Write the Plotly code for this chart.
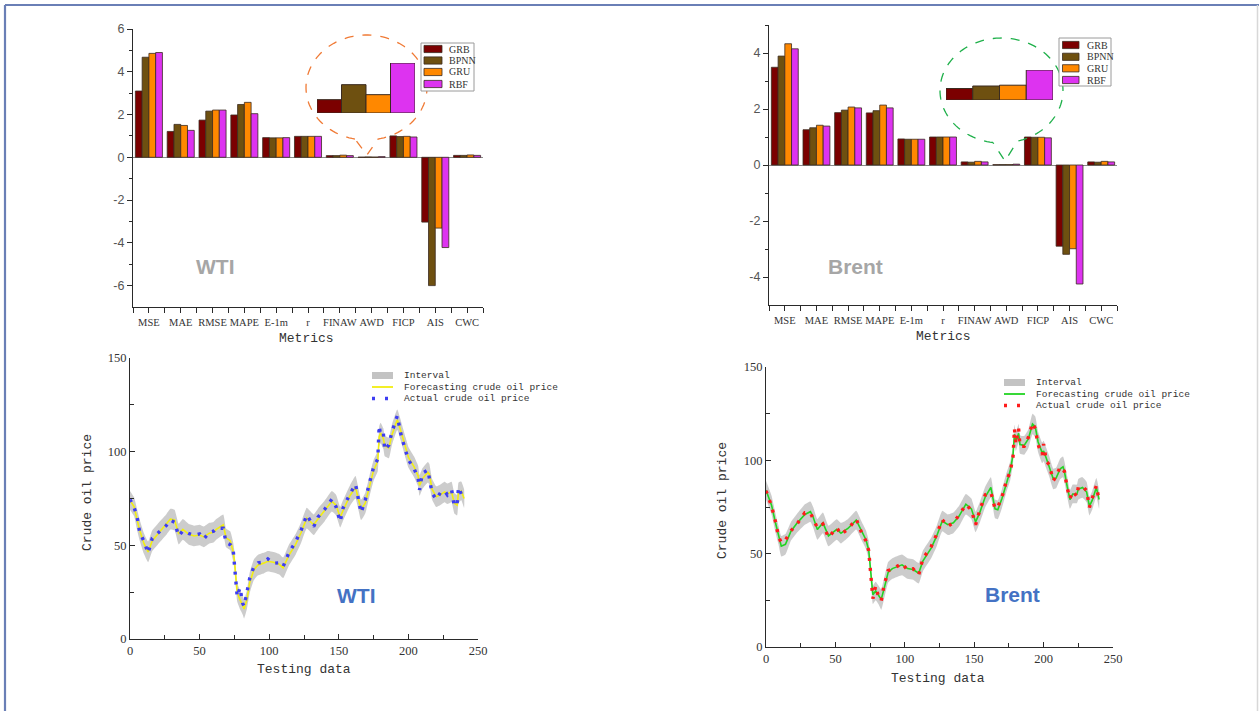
import numpy as np
import plotly.graph_objects as go

W, H = 1259, 711

# ---------------- evaluation metrics (bar charts) ----------------
metrics = ["MSE", "MAE", "RMSE", "MAPE", "E-1m", "r", "FINAW", "AWD", "FICP", "AIS", "CWC"]
models = ["GRB", "BPNN", "GRU", "RBF"]
model_colors = ["#7b0000", "#6e5010", "#ff8800", "#dd33f0"]

wti_grb = [3.10, 1.21, 1.74, 1.98, 0.92, 0.98, 0.08, 0.008, 1.00, -3.03, 0.09]
wti_bpnn = [4.68, 1.54, 2.16, 2.47, 0.91, 0.98, 0.08, 0.017, 0.97, -6.00, 0.09]
wti_gru = [4.86, 1.49, 2.21, 2.57, 0.91, 0.98, 0.10, 0.011, 0.98, -3.31, 0.11]
wti_rbf = [4.90, 1.26, 2.21, 2.04, 0.92, 0.98, 0.08, 0.030, 0.95, -4.22, 0.09]

brent_grb = [3.49, 1.26, 1.87, 1.86, 0.93, 1.00, 0.11, 0.0115, 1.00, -2.90, 0.11]
brent_bpnn = [3.89, 1.33, 1.96, 1.94, 0.92, 1.00, 0.10, 0.0140, 0.99, -3.19, 0.10]
brent_gru = [4.33, 1.42, 2.07, 2.14, 0.92, 1.00, 0.13, 0.0148, 0.99, -2.99, 0.13]
brent_rbf = [4.15, 1.39, 2.04, 2.04, 0.92, 1.00, 0.11, 0.0300, 0.97, -4.25, 0.11]

# ---------------- interval forecasts (line charts) ----------------
wti_x = [0, 3, 5, 7, 10, 13, 16, 20, 23, 26, 29, 32, 35, 38, 42, 46, 50, 53, 57, 60,
         62, 67, 69, 72, 74, 75, 76, 77, 79, 81, 82, 84, 86, 89, 92, 96, 99, 103, 107, 110,
         114, 119, 123, 127, 132, 135, 140, 145, 148, 151, 153, 158, 162, 166, 169, 172, 175, 178, 179, 180,
         182, 183, 186, 188, 192, 195, 198, 200, 204, 207, 208, 210, 214, 215, 217, 220, 223, 226, 228, 231,
         233, 235, 236, 238, 240]
wti_actual = [74.5, 70.0, 65.7, 56.8, 52.3, 45.8, 53.8, 56.4, 58.0, 60.5, 63.5, 62.3, 55.0, 57.8, 56.4, 55.3, 56.1, 53.4, 57.0, 57.5,
              59.1, 59.1, 51.4, 50.4, 48.7, 40.0, 31.5, 22.6, 27.4, 19.0, 17.5, 24.4, 32.4, 38.6, 40.7, 41.0, 42.7, 40.4, 40.7, 38.6,
              45.8, 52.0, 58.2, 66.2, 60.0, 65.0, 69.4, 74.6, 70.6, 62.6, 69.8, 77.4, 82.6, 67.4, 74.2, 83.1, 91.7, 96.1, 113.9, 108.9,
              109.8, 100.9, 103.6, 110.1, 119.1, 108.0, 100.5, 95.6, 91.1, 85.8, 79.6, 88.5, 90.2, 86.3, 77.8, 74.6, 78.1, 79.2, 76.9, 79.6,
              71.0, 72.4, 81.0, 77.4, 75.1]
wti_forecast = [74.0, 70.5, 64.0, 58.0, 51.0, 46.5, 52.5, 56.0, 58.5, 61.0, 64.0, 63.5, 56.0, 58.5, 56.0, 55.0, 55.5, 54.5, 56.5, 57.0,
                58.5, 61.0, 54.0, 52.5, 47.0, 42.0, 33.0, 25.0, 21.0, 18.0, 16.0, 21.0, 30.0, 37.0, 39.5, 40.5, 41.5, 41.0, 40.0, 38.0,
                44.5, 50.5, 57.0, 64.5, 61.0, 64.0, 68.5, 73.5, 71.5, 65.0, 68.5, 76.5, 81.0, 69.0, 72.5, 81.5, 90.0, 95.0, 108.0, 110.0,
                107.0, 103.0, 102.0, 108.5, 117.0, 110.0, 102.0, 97.0, 92.0, 87.0, 82.0, 85.5, 89.0, 88.0, 80.0, 76.0, 77.0, 78.5, 77.5, 78.5,
                72.5, 71.5, 78.0, 79.0, 75.0]
wti_halfwidth = [5.0, 5.0, 5.5, 5.5, 5.5, 5.5, 5.5, 5.5, 5.5, 5.5, 5.5, 5.5, 5.5, 5.5, 5.5, 5.5, 5.5, 5.5, 5.5, 5.5,
                 5.5, 5.5, 5.0, 5.0, 5.0, 5.0, 5.0, 5.0, 5.0, 5.0, 5.0, 5.0, 5.5, 5.5, 5.5, 5.5, 5.5, 5.5, 5.5, 5.5,
                 5.5, 5.5, 5.5, 5.5, 5.5, 5.5, 5.5, 5.5, 5.5, 5.5, 5.5, 5.5, 6.0, 5.5, 5.5, 5.5, 5.5, 5.5, 5.5, 5.5,
                 5.5, 5.5, 5.5, 5.5, 5.5, 5.5, 5.5, 5.5, 5.5, 5.5, 5.5, 5.5, 5.5, 5.5, 5.5, 5.5, 5.5, 5.5, 5.5, 5.5,
                 5.5, 5.5, 5.5, 5.0, 5.0]

brent_x = [0, 4, 7, 9, 11, 14, 18, 22, 28, 32, 34, 37, 41, 45, 51, 54, 59, 65, 69, 72,
           74, 75, 76, 77, 79, 81, 83, 85, 88, 91, 98, 102, 106, 110, 113, 119, 123, 127, 131, 135,
           139, 144, 148, 151, 154, 158, 162, 165, 167, 170, 173, 176, 178, 179, 180, 182, 183, 186, 189, 192,
           194, 196, 199, 200, 202, 204, 207, 209, 212, 214, 215, 217, 219, 221, 224, 225, 228, 231, 233, 235,
           238, 240]
brent_actual = [83.7, 75.5, 66.6, 59.1, 55.9, 57.3, 62.3, 65.5, 71.9, 71.9, 68.6, 63.9, 65.9, 58.7, 63.9, 60.3, 63.2, 68.6, 60.9, 56.8,
                51.6, 43.0, 34.1, 25.9, 32.7, 26.9, 24.8, 32.7, 40.9, 41.6, 44.8, 41.2, 41.9, 38.6, 47.3, 53.8, 60.4, 68.2, 64.6, 66.8,
                70.5, 76.3, 73.4, 65.5, 73.2, 81.6, 83.0, 74.1, 75.2, 80.2, 88.4, 94.1, 102.1, 117.0, 108.8, 117.0, 107.5, 107.5, 112.3, 120.0,
                117.0, 108.4, 103.0, 108.8, 99.5, 97.7, 89.1, 91.4, 96.6, 95.0, 94.1, 85.2, 79.5, 83.4, 80.7, 85.7, 86.1, 83.8, 74.8, 79.5,
                86.4, 78.4]
brent_forecast = [84.0, 76.0, 66.0, 60.0, 54.0, 55.0, 62.0, 66.0, 71.0, 72.5, 69.5, 63.0, 66.5, 59.5, 63.0, 61.0, 63.5, 68.0, 62.0, 57.5,
                  52.0, 44.0, 35.0, 28.0, 30.0, 28.0, 25.5, 31.0, 40.0, 42.0, 44.0, 42.0, 41.5, 39.5, 46.0, 53.0, 59.5, 67.5, 65.5, 66.5,
                  70.0, 76.5, 74.0, 67.0, 72.0, 80.5, 85.5, 74.0, 73.5, 79.5, 87.5, 94.5, 103.0, 114.0, 110.0, 114.5, 108.5, 108.0, 111.5, 119.5,
                  118.0, 110.0, 104.0, 105.0, 101.0, 97.0, 90.0, 90.5, 95.5, 96.5, 94.0, 86.0, 79.0, 82.0, 82.0, 84.5, 85.5, 83.0, 75.5, 78.5,
                  85.5, 79.0]
brent_halfwidth = [5.0, 5.0, 5.0, 5.0, 5.5, 5.5, 5.0, 5.0, 5.5, 5.5, 5.5, 5.5, 5.5, 5.5, 5.5, 5.5, 5.0, 5.0, 5.0, 5.0,
                   5.0, 5.0, 5.0, 5.0, 5.0, 5.0, 5.5, 5.5, 5.5, 5.5, 5.5, 5.5, 5.5, 5.5, 5.5, 5.5, 5.5, 5.5, 5.5, 5.5,
                   5.5, 5.5, 5.5, 5.5, 5.5, 5.5, 5.5, 5.0, 5.0, 5.0, 5.0, 5.0, 5.0, 5.0, 5.0, 5.0, 5.0, 5.0, 5.0, 5.5,
                   5.5, 5.5, 5.5, 5.5, 5.5, 5.5, 5.5, 5.5, 5.5, 5.5, 5.5, 5.5, 5.0, 5.0, 5.0, 5.5, 5.5, 5.5, 5.0, 5.0,
                   5.0, 5.0]

price_ticks = [0, 50, 100, 150]
test_ticks = [0, 50, 100, 150, 200, 250]

# ---------------- helpers ----------------
def px(x):
    return x / W


def py(y):
    return 1 - y / H


SERIF = "Liberation Serif, Times New Roman, serif"
MONO = "Liberation Mono, DejaVu Sans Mono, monospace"
SANS = "Liberation Sans, Arial, sans-serif"
AXIS_COLOR = "#2a2a2a"

fig = go.Figure()

# grouped bars for both crude benchmarks
bar_sets = [
    ("x", "y", [wti_grb, wti_bpnn, wti_gru, wti_rbf]),
    ("x2", "y2", [brent_grb, brent_bpnn, brent_gru, brent_rbf]),
]
for xa, ya, series in bar_sets:
    for name, vals, col in zip(models, series, model_colors):
        fig.add_trace(go.Bar(
            x=list(range(len(metrics))), y=vals, name=name,
            marker=dict(color=col, line=dict(color="#3b2b20", width=0.8)),
            xaxis=xa, yaxis=ya, showlegend=False,
        ))

# magnified AWD bars inside the call-out bubbles
awd_idx = metrics.index("AWD")
for xa, ya, series in [("x5", "y5", [wti_grb, wti_bpnn, wti_gru, wti_rbf]),
                       ("x6", "y6", [brent_grb, brent_bpnn, brent_gru, brent_rbf])]:
    fig.add_trace(go.Bar(
        x=list(range(4)), y=[s[awd_idx] for s in series], width=1,
        marker=dict(color=model_colors, line=dict(color="#3b2b20", width=1)),
        xaxis=xa, yaxis=ya, showlegend=False,
    ))

# interval / forecast / actual lines
line_sets = [
    ("x3", "y3", wti_x, wti_actual, wti_forecast, wti_halfwidth, "#f2ee10", "#3d3df2"),
    ("x4", "y4", brent_x, brent_actual, brent_forecast, brent_halfwidth, "#22d422", "#ff1c1c"),
]
for xa, ya, xs, act, fc, hw, fc_col, act_col in line_sets:
    hi = [f + h for f, h in zip(fc, hw)]
    lo = [f - h for f, h in zip(fc, hw)]
    fig.add_trace(go.Scatter(
        x=xs + xs[::-1], y=hi + lo[::-1], fill="toself", mode="lines",
        fillcolor="rgba(185,185,185,0.72)", line=dict(width=0, shape="spline", smoothing=0.4),
        xaxis=xa, yaxis=ya, showlegend=False, hoverinfo="skip", name="Interval",
    ))
    fig.add_trace(go.Scatter(
        x=xs, y=fc, mode="lines", line=dict(color=fc_col, width=1.6),
        xaxis=xa, yaxis=ya, showlegend=False, name="Forecasting crude oil price",
    ))
    fig.add_trace(go.Scatter(
        x=xs, y=act, mode="lines", line=dict(color=act_col, width=3.4, dash="3px,7px"),
        xaxis=xa, yaxis=ya, showlegend=False, name="Actual crude oil price",
    ))

# ---------------- axes ----------------
def bar_xaxis(dom, anchor):
    return dict(
        domain=dom, anchor=anchor, automargin=False,
        range=[-0.5, len(metrics) - 0.5], tickvals=list(range(len(metrics))),
        ticktext=metrics, tickangle=0, ticks="outside", ticklen=5, tickcolor=AXIS_COLOR,
        minor=dict(tickvals=[i + 0.5 for i in range(-1, len(metrics))], ticks="outside",
                   ticklen=5, tickcolor=AXIS_COLOR),
        showline=True, linecolor=AXIS_COLOR, linewidth=1.2, showgrid=False, zeroline=False,
        tickfont=dict(family=SERIF, size=10.5, color="#333"), fixedrange=True,
    )


def bar_yaxis(dom, anchor, rng, tv):
    return dict(
        domain=dom, anchor=anchor, automargin=False,
        range=rng, tickvals=tv, ticktext=[str(v) for v in tv],
        ticks="outside", ticklen=5, tickcolor=AXIS_COLOR,
        minor=dict(tickvals=[v + 1 for v in tv], ticks="outside",
                   ticklen=3, tickcolor=AXIS_COLOR),
        showline=True, linecolor=AXIS_COLOR, linewidth=1.2, showgrid=False,
        zeroline=True, zerolinecolor="#8a8a8a", zerolinewidth=1.2,
        tickfont=dict(family=SANS, size=12.5, color="#555"), fixedrange=True,
    )


def line_xaxis(dom, anchor):
    return dict(
        domain=dom, anchor=anchor, automargin=False,
        range=[0, 250], tickvals=test_ticks, ticks="inside", ticklen=5,
        tickcolor=AXIS_COLOR,
        minor=dict(tickvals=[25, 75, 125, 175, 225], ticks="inside", ticklen=4, tickcolor=AXIS_COLOR),
        showline=True, linecolor=AXIS_COLOR, linewidth=1.2, showgrid=False, zeroline=False,
        tickfont=dict(family=SERIF, size=12.5, color="#333"), fixedrange=True,
    )


def line_yaxis(dom, anchor):
    return dict(
        domain=dom, anchor=anchor, automargin=False,
        range=[0, 150], tickvals=price_ticks, ticks="inside", ticklen=5,
        tickcolor=AXIS_COLOR,
        minor=dict(tickvals=[25, 75, 125], ticks="inside", ticklen=4, tickcolor=AXIS_COLOR),
        showline=True, linecolor=AXIS_COLOR, linewidth=1.2, showgrid=False, zeroline=False,
        tickfont=dict(family=SERIF, size=12.5, color="#333"), fixedrange=True,
    )


hidden = dict(visible=False, showgrid=False, zeroline=False, fixedrange=True, automargin=False)

fig.update_layout(
    width=W, height=H, margin=dict(l=0, r=0, t=0, b=0, autoexpand=False),
    paper_bgcolor="white", plot_bgcolor="rgba(0,0,0,0)",
    barmode="group", bargap=0.15, bargroupgap=0,
    showlegend=False,
    xaxis=bar_xaxis([px(133), px(483)], "y"),
    yaxis=bar_yaxis([py(307), py(29)], "x", [-7, 6], [-6, -4, -2, 0, 2, 4, 6]),
    xaxis2=bar_xaxis([px(769), px(1117)], "y2"),
    yaxis2=bar_yaxis([py(305), py(25)], "x2", [-5, 5], [-4, -2, 0, 2, 4]),
    xaxis3=line_xaxis([px(130), px(478)], "y3"),
    yaxis3=line_yaxis([py(639), py(358)], "x3"),
    xaxis4=line_xaxis([px(766), px(1113)], "y4"),
    yaxis4=line_yaxis([py(647), py(367)], "x4"),
    xaxis5=dict(domain=[px(317), px(415)], range=[-0.5, 3.5], anchor="y5", **hidden),
    yaxis5=dict(domain=[py(113), py(63)], range=[0, max(wti_rbf[awd_idx], wti_bpnn[awd_idx])], anchor="x5", **hidden),
    xaxis6=dict(domain=[px(946), px(1053)], range=[-0.5, 3.5], anchor="y6", **hidden),
    yaxis6=dict(domain=[py(100), py(70)], range=[0, max(brent_rbf[awd_idx], brent_gru[awd_idx])], anchor="x6", **hidden),
)

shapes = []
annotations = []

# outer frame
shapes.append(dict(type="line", xref="paper", yref="paper", x0=px(5), x1=1, y0=py(5), y1=py(5),
                   line=dict(color="#6a7fb6", width=2.2)))
shapes.append(dict(type="line", xref="paper", yref="paper", x0=px(5), x1=px(5), y0=py(5), y1=0,
                   line=dict(color="#6a7fb6", width=2.2)))
shapes.append(dict(type="line", xref="paper", yref="paper", x0=px(1257.5), x1=px(1257.5), y0=py(5), y1=0,
                   line=dict(color="#d8d8d8", width=1.5)))


# call-out bubbles around the magnified AWD bars
def bubble(cx, cy, rx, ry, th0, th1, tip):
    th = np.radians(np.linspace(th0, th1, 120))
    pts = list(zip(cx + rx * np.cos(th), cy + ry * np.sin(th)))
    pts += [tip, pts[0]]
    return "M " + " L ".join(f"{px(a):.5f},{py(b):.5f}" for a, b in pts)


shapes.append(dict(type="path", xref="paper", yref="paper",
                   path=bubble(366.5, 87.5, 60.5, 52.5, 101, 439, (367, 155)),
                   line=dict(color="#f07a35", width=1.3, dash="dash")))
shapes.append(dict(type="path", xref="paper", yref="paper",
                   path=bubble(1001.5, 90.5, 61.5, 52.5, 98, 435, (1005, 161)),
                   line=dict(color="#1fb04a", width=1.3, dash="dash")))


# bar-chart legends
def bar_legend(x0, x1, y0, y1, sw0, sw1, tx, rows):
    shapes.append(dict(type="rect", xref="paper", yref="paper", x0=px(x0), x1=px(x1), y0=py(y1), y1=py(y0),
                       line=dict(color="#9a9a9a", width=1), fillcolor="white"))
    for yc, name, col in zip(rows, models, model_colors):
        shapes.append(dict(type="rect", xref="paper", yref="paper", x0=px(sw0), x1=px(sw1),
                           y0=py(yc + 3.6), y1=py(yc - 3.6), fillcolor=col,
                           line=dict(color="#3b2b20", width=0.8)))
        annotations.append(dict(x=px(tx), y=py(yc), xref="paper", yref="paper", text=name,
                                showarrow=False, xanchor="left", yanchor="middle",
                                font=dict(family=SERIF, size=10, color="#333")))


bar_legend(421, 474, 43, 91, 424, 442, 447, [49, 60.5, 72, 84])
bar_legend(1059, 1111, 38, 86, 1062.5, 1079, 1085, [45, 56.8, 68.3, 80])


# line-chart legends
def line_legend(sx0, sx1, tx, rows, fc_col, act_col):
    labels = ["Interval", "Forecasting crude oil price", "Actual crude oil price"]
    shapes.append(dict(type="rect", xref="paper", yref="paper", x0=px(sx0), x1=px(sx1),
                       y0=py(rows[0] + 3.5), y1=py(rows[0] - 3.5),
                       fillcolor="rgba(185,185,185,0.85)", line=dict(width=0)))
    shapes.append(dict(type="line", xref="paper", yref="paper", x0=px(sx0), x1=px(sx1),
                       y0=py(rows[1]), y1=py(rows[1]), line=dict(color=fc_col, width=1.8)))
    shapes.append(dict(type="line", xref="paper", yref="paper", x0=px(sx0), x1=px(sx1),
                       y0=py(rows[2]), y1=py(rows[2]), line=dict(color=act_col, width=3.4, dash="3px,10px")))
    for yc, lab in zip(rows, labels):
        annotations.append(dict(x=px(tx), y=py(yc), xref="paper", yref="paper", text=lab,
                                showarrow=False, xanchor="left", yanchor="middle",
                                font=dict(family=MONO, size=9.5, color="#333")))


line_legend(372, 393, 402, [375.5, 387, 398.5], "#f2ee10", "#3d3df2")
line_legend(1004, 1025, 1034, [382.5, 394, 405.5], "#22d422", "#ff1c1c")

# axis titles
for x, y, txt, ang in [(306, 339, "Metrics", 0), (943, 336, "Metrics", 0),
                       (304, 669, "Testing data", 0), (938, 678, "Testing data", 0),
                       (87, 493, "Crude oil price", -90), (722, 501, "Crude oil price", -90)]:
    annotations.append(dict(x=px(x), y=py(y), xref="paper", yref="paper", text=txt, textangle=ang,
                            showarrow=False, xanchor="center", yanchor="middle",
                            font=dict(family=MONO, size=13, color="#333")))

# panel labels
for x, y, txt, col in [(215, 266, "WTI", "#a6a6a6"), (855, 266, "Brent", "#a6a6a6"),
                       (356, 595, "WTI", "#4472c4"), (1012, 594, "Brent", "#4472c4")]:
    annotations.append(dict(x=px(x), y=py(y), xref="paper", yref="paper", text=f"<b>{txt}</b>",
                            showarrow=False, xanchor="center", yanchor="middle",
                            font=dict(family=SANS, size=21, color=col)))

fig.update_layout(shapes=shapes, annotations=annotations)

fig.write_html("out.html")
